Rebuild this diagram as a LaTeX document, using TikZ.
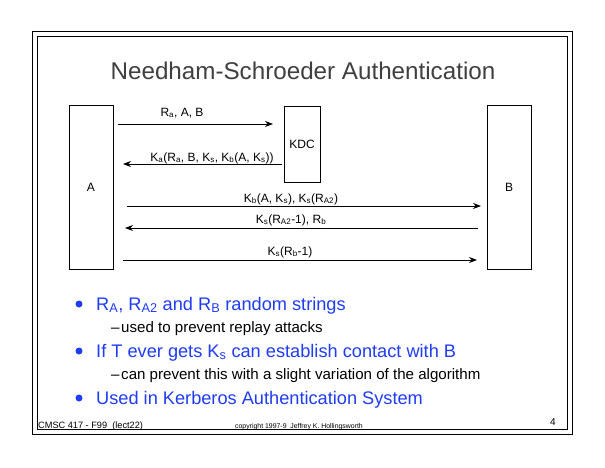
\documentclass[tikz,border=0pt]{standalone}
\usepackage{fontspec}
\setmainfont{Liberation Sans}
\usetikzlibrary{arrows.meta}
\definecolor{bulblue}{RGB}{30,60,250}
\definecolor{titlegray}{RGB}{64,64,64}
\newcommand{\fs}[1]{\fontsize{#1}{#1}\selectfont}
\begin{document}
\begin{tikzpicture}[x=1pt,y=-1pt,
  frame/.style={draw=black,line width=1pt},
  party/.style={draw=black,line width=0.8pt,minimum width=44pt,minimum height=164pt,inner sep=0pt,font=\fs{12}},
  msg/.style={line width=0.8pt,-{Stealth[length=8pt,width=6pt]}},
  lbl/.style={anchor=base,inner sep=0pt,font=\fs{12}},
  bul/.style={anchor=base west,inner sep=0pt,text=bulblue,font=\fs{18.2}},
  dot/.style={circle,fill=bulblue,inner sep=0pt,minimum size=7pt},
  subb/.style={anchor=base west,inner sep=0pt,font=\fs{15.1}},
  foot/.style={anchor=base west,inner sep=0pt,font=\fs{9.2}}]
\useasboundingbox (0,0) rectangle (605,467);
\fill[white] (0,0) rectangle (605,467);
% frames
\draw[frame] (32,31) rectangle (572,434);
\draw[frame] (37,36) rectangle (567,429);
% title
\node[anchor=base,inner sep=0pt,text=titlegray,font=\fs{24.2}] (title) at (303,79) {Needham-Schroeder Authentication};
% parties
\node[party] (A) at (91,187) {A};
\node[party,minimum width=36pt,minimum height=76pt] (KDC) at (302,144) {KDC};
\node[party] (B) at (509,187) {B};
% message endpoints
\coordinate (m1s) at (118,124); \coordinate (m1e) at (273,124);
\coordinate (m2s) at (282,164); \coordinate (m2e) at (123,164);
\coordinate (m3s) at (127,206); \coordinate (m3e) at (481,206);
\coordinate (m4s) at (478,228); \coordinate (m4e) at (125,228);
\coordinate (m5s) at (123,260); \coordinate (m5e) at (477,260);
\draw[msg] (m1s) -- (m1e);
\draw[msg] (m2s) -- (m2e);
\draw[msg] (m3s) -- (m3e);
\draw[msg] (m4s) -- (m4e);
\draw[msg] (m5s) -- (m5e);
\node[lbl] (l1) at (182,116) {R\textsubscript{a}, A, B};
\node[lbl] (l2) at (212,161) {K\textsubscript{a}(R\textsubscript{a}, B, K\textsubscript{s}, K\textsubscript{b}(A, K\textsubscript{s}))};
\node[lbl] (l3) at (291,202) {K\textsubscript{b}(A, K\textsubscript{s}), K\textsubscript{s}(R\textsubscript{A2})};
\node[lbl] (l4) at (291,223) {K\textsubscript{s}(R\textsubscript{A2}-1), R\textsubscript{b}};
\node[lbl] (l5) at (290,255) {K\textsubscript{s}(R\textsubscript{b}-1)};
% bullets
\node[dot] (d1) at (79,304) {};
\node[bul] (b1) at (96,310) {R\textsubscript{A}, R\textsubscript{A2} and R\textsubscript{B} random strings};
\node[subb] (s1d) at (111,332) {–};
\node[subb] (s1) at (121,332) {used to prevent replay attacks};
\node[dot] (d2) at (79,351) {};
\node[bul] (b2) at (96,357) {If T ever gets K\textsubscript{s} can establish contact with B};
\node[subb] (s2d) at (111,379) {–};
\node[subb] (s2) at (121,379) {can prevent this with a slight variation of the algorithm};
\node[dot] (d3) at (79,398) {};
\node[bul] (b3) at (96,404) {Used in Kerberos Authentication System};
% footer
\node[foot] (f1) at (38,428) {CMSC 417 - F99\ \ (lect22)};
\node[anchor=base west,inner sep=0pt,font=\fs{6.9}] (f2) at (235,428) {copyright 1997-9\ \ Jeffrey K. Hollingsworth};
\node[anchor=base,inner sep=0pt,font=\fs{10}] (f3) at (553,425) {4};
\end{tikzpicture}
\end{document}
